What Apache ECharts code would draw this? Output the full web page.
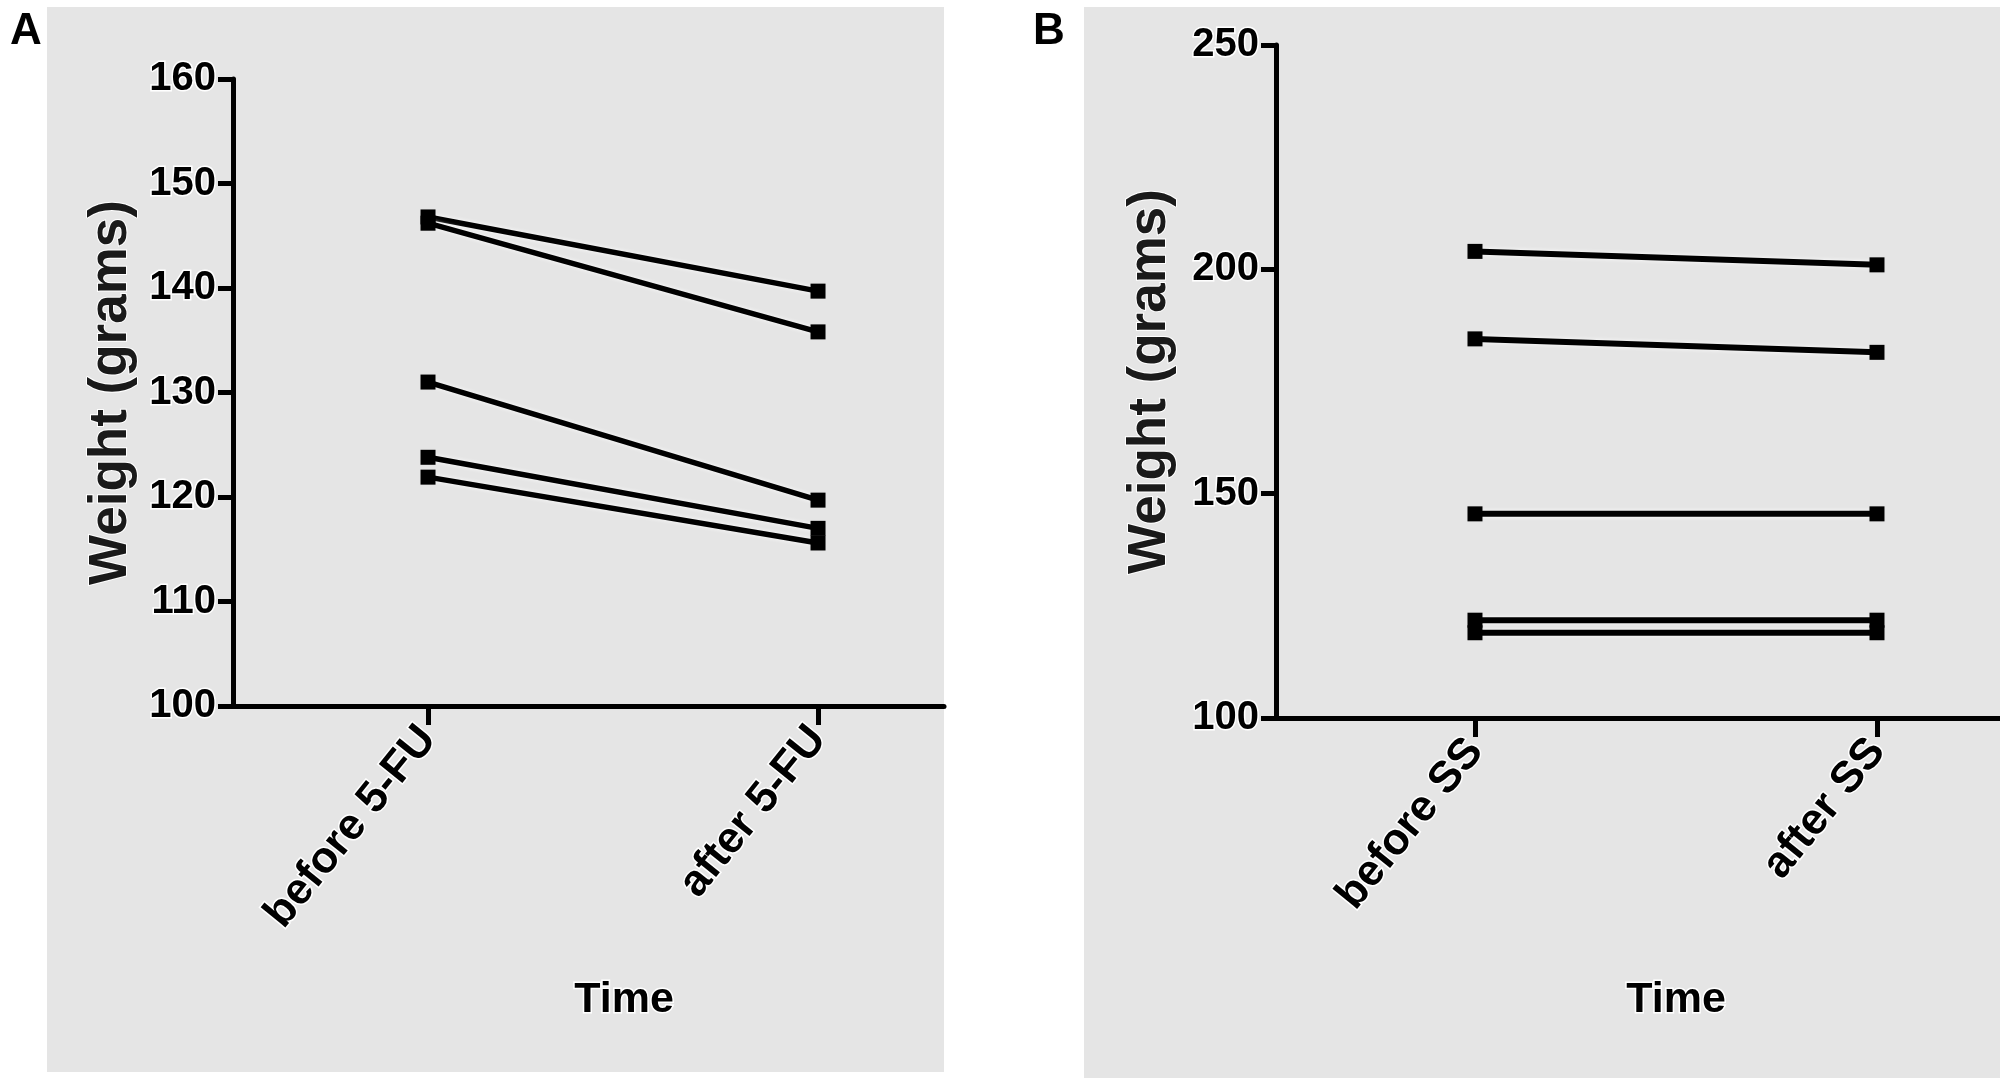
<!DOCTYPE html>
<html>
<head>
<meta charset="utf-8">
<title>Weight before and after treatment</title>
<script src="https://cdn.jsdelivr.net/npm/echarts@6/dist/echarts.min.js"></script>
<style>
  html, body { margin: 0; padding: 0; background: #fff; }
  #main { width: 2000px; height: 1086px; }
</style>
</head>
<body>
<div id="main"></div>
<script>
// panel A: 5-FU
const categoriesA = ['before 5-FU', 'after 5-FU']
const beforeA = [146.8, 146.2, 131.0, 123.8, 121.9]
const afterA = [139.7, 135.8, 119.7, 117.0, 115.6]

// panel B: SS
const categoriesB = ['before SS', 'after SS']
const beforeB = [204.0, 184.5, 145.5, 121.8, 119.0]
const afterB = [201.0, 181.5, 145.5, 121.8, 119.0]

const FONT = '"Liberation Sans", Arial, sans-serif'
const INK = '#000'
const PANEL_BG = '#e5e5e5'

const tickText = {
  color: INK,
  fontFamily: FONT,
  fontWeight: 'bold',
  fontSize: 40,
  textBorderColor: '#fff',
  textBorderWidth: 3,
}

function xAxisFor(gridIndex, categories, min, max) {
  return {
    type: 'value',
    gridIndex,
    min,
    max,
    axisLine: { show: true, onZero: false, lineStyle: { color: INK, width: 5 } },
    axisTick: { show: true, length: 19, customValues: [0, 1], lineStyle: { color: INK, width: 5 } },
    axisLabel: {
      ...tickText,
      fontSize: 44,
      customValues: [0, 1],
      rotate: 51,
      margin: 26,
      formatter: v => categories[v] ?? '',
    },
    splitLine: { show: false },
  }
}

function yAxisFor(gridIndex, min, max, interval, gap) {
  return {
    type: 'value',
    gridIndex,
    min,
    max,
    interval,
    name: 'Weight (grams)',
    nameLocation: 'middle',
    nameGap: gap,
    nameTextStyle: {
      color: '#1a1a1a',
      fontFamily: FONT,
      fontWeight: 'bold',
      fontSize: 53,
      textBorderColor: '#fff',
      textBorderWidth: 2,
    },
    axisLine: { show: true, onZero: false, lineStyle: { color: INK, width: 5 } },
    axisTick: { show: true, length: 15, lineStyle: { color: INK, width: 5 } },
    axisLabel: { ...tickText, margin: 17 },
    splitLine: { show: false },
  }
}

function pairedSeries(gridIndex, before, after, width) {
  return before.map((b, i) => ({
    type: 'line',
    xAxisIndex: gridIndex,
    yAxisIndex: gridIndex,
    data: [[0, b], [1, after[i]]],
    symbol: 'rect',
    symbolSize: 15,
    itemStyle: { color: INK },
    lineStyle: { color: INK, width, shadowColor: '#fff', shadowBlur: 4 },
    animation: false,
    silent: true,
  }))
}

function panelText(text, x, y, size) {
  return {
    type: 'text',
    left: x,
    top: y,
    style: { text, fill: INK, font: `bold ${size}px ${FONT}` },
  }
}

function timeLabel(x) {
  return {
    type: 'text', x, y: 1000,
    style: {
      text: 'Time', fill: INK, font: `bold 43px ${FONT}`,
      align: 'center', verticalAlign: 'middle', stroke: '#fff', lineWidth: 3,
    },
  }
}

const chart = echarts.init(document.getElementById('main'), null, { renderer: 'canvas' })

chart.setOption({
  backgroundColor: '#fff',
  animation: false,
  graphic: [
    { type: 'rect', z: -10, shape: { x: 47, y: 7, width: 897, height: 1065 }, style: { fill: PANEL_BG } },
    { type: 'rect', z: -10, shape: { x: 1084, y: 7, width: 916, height: 1071 }, style: { fill: PANEL_BG } },
    panelText('A', 10, 10, 44),
    panelText('B', 1033, 10, 44),
    timeLabel(624),
    timeLabel(1676),
  ],
  grid: [
    { left: 233, top: 79, width: 711, height: 627 },
    { left: 1276, top: 45, width: 724, height: 673 },
  ],
  xAxis: [
    xAxisFor(0, categoriesA, -0.5, 1.323),
    xAxisFor(1, categoriesB, -0.495, 1.306),
  ],
  yAxis: [
    yAxisFor(0, 100, 160, 10, 95),
    yAxisFor(1, 100, 250, 50, 99),
  ],
  series: [
    ...pairedSeries(0, beforeA, afterA, 5.5),
    ...pairedSeries(1, beforeB, afterB, 6),
  ],
})
</script>
</body>
</html>
